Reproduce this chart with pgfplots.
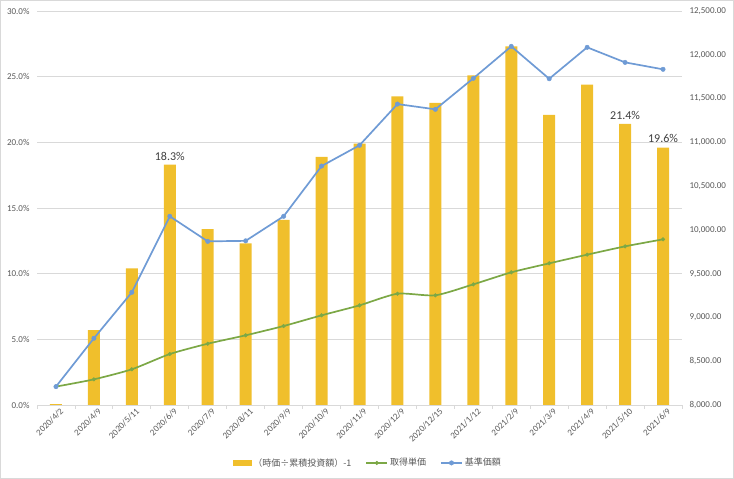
\documentclass[border=0pt]{standalone}
\usepackage{pgfplots}
\pgfplotsset{compat=1.18}
\usepackage{fontspec}
\setmainfont{Carlito}
\newfontfamily\cjk{Noto Sans CJK JP}
\definecolor{barc}{HTML}{F0BF2C}
\definecolor{bluec}{HTML}{6F9BD5}
\definecolor{greenc}{HTML}{7CA846}
\definecolor{gridc}{HTML}{D9D9D9}
\definecolor{txtc}{HTML}{595959}
\definecolor{lblc}{HTML}{404040}
\begin{document}
\begin{tikzpicture}[x=1pt,y=1pt]
\draw[gridc, line width=0.8pt] (0.4,0.4) rectangle (733.6,478.6);
\begin{axis}[
  at={(37pt,74pt)}, anchor=south west,
  scale only axis, width=645pt, height=394pt,
  /pgf/number format/assume math mode=true,
  xmin=-0.5, xmax=16.5,
  ymin=0, ymax=30,
  ytick={0,5,...,30},
  yticklabel={\pgfmathprintnumber[fixed,fixed zerofill,precision=1]{\tick}\%},
  yticklabel style={font=\fontsize{9}{10}\selectfont, text=txtc, xshift=-4pt},
  xtick={0,...,16},
  xticklabels={2020/4/2,2020/4/9,2020/5/11,2020/6/9,2020/7/9,2020/8/11,2020/9/9,2020/10/9,2020/11/9,2020/12/9,2020/12/15,2021/1/12,2021/2/9,2021/3/9,2021/4/9,2021/5/10,2021/6/9},
  xticklabel style={font=\fontsize{9}{10}\selectfont, text=txtc, rotate=45, anchor=north east, inner sep=1pt, xshift=2pt, yshift=-3pt},
  minor xtick={-0.5,0.5,...,16.5},
  major tick length=0pt, minor tick length=4pt, tick align=outside,
  tick style={draw=gridc, line width=0.8pt},
  axis x line*=bottom, axis y line*=left,
  x axis line style={draw=gridc, line width=0.8pt, -},
  y axis line style={draw=none},
  ymajorgrids, grid style={draw=gridc, line width=0.8pt},
  ybar, bar width=12pt,
  nodes near coords, point meta=explicit symbolic,
  nodes near coords style={font=\fontsize{12}{13}\selectfont, text=lblc, anchor=south, yshift=1pt},
]
\addplot[fill=barc, draw=none] coordinates {
 (0,0.06) [] (1,5.7) [] (2,10.4) [] (3,18.3) [18.3\%] (4,13.4) [] (5,12.3) []
 (6,14.1) [] (7,18.9) [] (8,19.9) [] (9,23.5) [] (10,23.0) [] (11,25.1) []
 (12,27.3) [] (13,22.1) [] (14,24.4) [] (15,21.4) [21.4\%] (16,19.6) [19.6\%]
};
\end{axis}
\begin{axis}[
  at={(37pt,74pt)}, anchor=south west,
  scale only axis, width=645pt, height=394pt,
  /pgf/number format/assume math mode=true,
  scaled y ticks=false,
  xmin=-0.5, xmax=16.5,
  ymin=8000, ymax=12500,
  ytick={8000,8500,...,12500},
  yticklabel={\pgfmathprintnumber[fixed,fixed zerofill,precision=2,1000 sep={,}]{\tick}},
  yticklabel style={font=\fontsize{9}{10}\selectfont, text=txtc, xshift=4pt},
  axis y line*=right, axis x line=none,
  y axis line style={draw=none},
  major tick length=0pt, ytick style={draw=none},
  legend columns=3,
  legend style={draw=none, fill=none, at={(0.513,-0.147)}, anchor=center,
    font=\cjk\fontsize{9}{10}\selectfont, text=txtc,
    /tikz/every even column/.append style={column sep=12pt}},
  legend image code/.code={\draw[mark repeat=2,mark phase=2,#1] plot coordinates {(0pt,0pt) (10.5pt,0pt) (21pt,0pt)};},
]
\addlegendimage{legend image code/.code={\fill[barc] (0pt,-2.5pt) rectangle (18pt,2.5pt);}}
\addlegendentry{（時価÷累積投資額）-1}
\addplot[greenc, line width=1.7pt, smooth, tension=0.4, mark=*, mark size=1.8pt, mark options={fill=greenc, draw=greenc, line width=0.5pt}] coordinates {
 (0,8210) (1,8293) (2,8408) (3,8582) (4,8700) (5,8796) (6,8902) (7,9024) (8,9138)
 (9,9271) (10,9253) (11,9378) (12,9515) (13,9618) (14,9717) (15,9812) (16,9892)
};
\addlegendentry{取得単価}
\addplot[bluec, line width=1.7pt, mark=*, mark size=2.2pt, mark options={fill=bluec, draw=bluec, line width=0.5pt}] coordinates {
 (0,8210) (1,8762) (2,9287) (3,10155) (4,9869) (5,9875) (6,10155) (7,10729) (8,10966)
 (9,11437) (10,11377) (11,11731) (12,12096) (13,11726) (14,12085) (15,11913) (16,11834)
};
\addlegendentry{基準価額}
\end{axis}
\pgfresetboundingbox
\useasboundingbox (0,0) rectangle (734,479);
\end{tikzpicture}
\end{document}
